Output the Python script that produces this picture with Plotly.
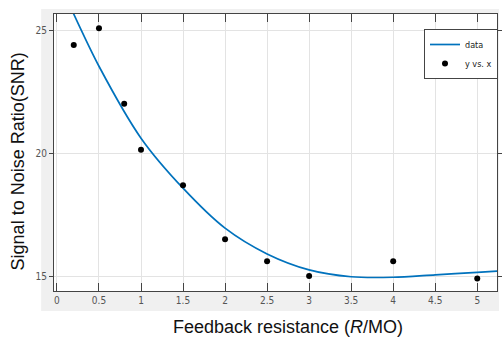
import plotly.graph_objects as go

# Measured SNR at each feedback resistance
res_x = [0.2, 0.5, 0.8, 1.0, 1.5, 2.0, 2.5, 3.0, 4.0, 5.0]
snr_y = [24.42, 25.1, 22.02, 20.15, 18.7, 16.5, 15.6, 15.0, 15.6, 14.9]

# Fitted curve ("data") sampled along the resistance axis
fit_x = [0.19, 0.5, 1.0, 1.5, 2.0, 2.5, 3.0, 3.5, 4.0, 4.5, 5.0, 5.3]
fit_y = [25.75, 23.55, 20.62, 18.58, 16.95, 15.9, 15.25, 14.97, 14.95, 15.05, 15.15, 15.21]

x_ticks = [0, 0.5, 1, 1.5, 2, 2.5, 3, 3.5, 4, 4.5, 5]
x_tick_text = ["0", "0.5", "1", "1.5", "2", "2.5", "3", "3.5", "4", "4.5", "5"]
y_ticks = [15, 20, 25]

W, H = 503, 343
ML, MR, MT, MB = 54, 1, 14, 52
pw, ph = W - ML - MR, H - MT - MB


def px_to_paper_x(px):
    return (px - ML) / pw


def px_to_paper_y(py):
    return (H - MB - py) / ph


tick_font = dict(family="Liberation Sans Narrow, DejaVu Sans Condensed, Arial Narrow, sans-serif",
                 size=10, color="#555")

fig = go.Figure()
fig.add_trace(go.Scatter(
    x=fit_x, y=fit_y, mode="lines", name="data",
    line=dict(color="#0072BD", width=1.7, shape="spline", smoothing=0.8),
))
fig.add_trace(go.Scatter(
    x=res_x, y=snr_y, mode="markers", name="y vs. x",
    marker=dict(color="black", size=6, symbol="circle"),
))

axis_common = dict(
    showline=True, linecolor="#444", linewidth=1, mirror="ticks",
    showgrid=True, gridcolor="#e3e3e3", gridwidth=1,
    zeroline=False, tickfont=tick_font, tickcolor="#444", tickwidth=1,
)

fig.update_xaxes(
    range=[-0.035, 5.235], tickmode="array", tickvals=x_ticks, ticktext=x_tick_text,
    ticks="inside", ticklen=8, **axis_common,
)
fig.update_yaxes(
    range=[14.39, 25.68], tickmode="array", tickvals=y_ticks,
    ticks="outside", ticklen=4, **axis_common,
)

# Light grey panel around the axes
shapes = [
    dict(type="rect", xref="paper", yref="paper",
         x0=px_to_paper_x(41), x1=px_to_paper_x(504),
         y0=px_to_paper_y(311), y1=px_to_paper_y(9),
         fillcolor="#f0f0f0", line=dict(width=0), layer="below"),
    dict(type="rect", xref="paper", yref="paper",
         x0=0, x1=1, y0=0, y1=1,
         fillcolor="white", line=dict(width=0), layer="below"),
]

title_font = dict(family="Liberation Sans, Arial, sans-serif", size=18, color="#111")
annotations = [
    dict(text="Signal to Noise Ratio(SNR)", xref="paper", yref="paper",
         x=px_to_paper_x(18), y=px_to_paper_y(161), textangle=-90,
         showarrow=False, xanchor="center", yanchor="middle", font=title_font),
    dict(text="Feedback resistance (<i>R</i>/MO)", xref="paper", yref="paper",
         x=px_to_paper_x(291), y=px_to_paper_y(327),
         showarrow=False, xanchor="center", yanchor="middle", font=title_font),
]

fig.update_layout(
    width=W, height=H,
    margin=dict(l=ML, r=MR, t=MT, b=MB, pad=0),
    paper_bgcolor="white", plot_bgcolor="white",
    shapes=shapes, annotations=annotations,
    showlegend=True,
    legend=dict(
        x=px_to_paper_x(503), y=px_to_paper_y(29), xanchor="right", yanchor="top",
        bgcolor="white", bordercolor="#444", borderwidth=1,
        font=dict(family="Liberation Sans Narrow, DejaVu Sans Condensed, sans-serif",
                  size=9, color="#222"),
        itemwidth=30, tracegroupgap=0,
    ),
)

fig.write_html("out.html")
